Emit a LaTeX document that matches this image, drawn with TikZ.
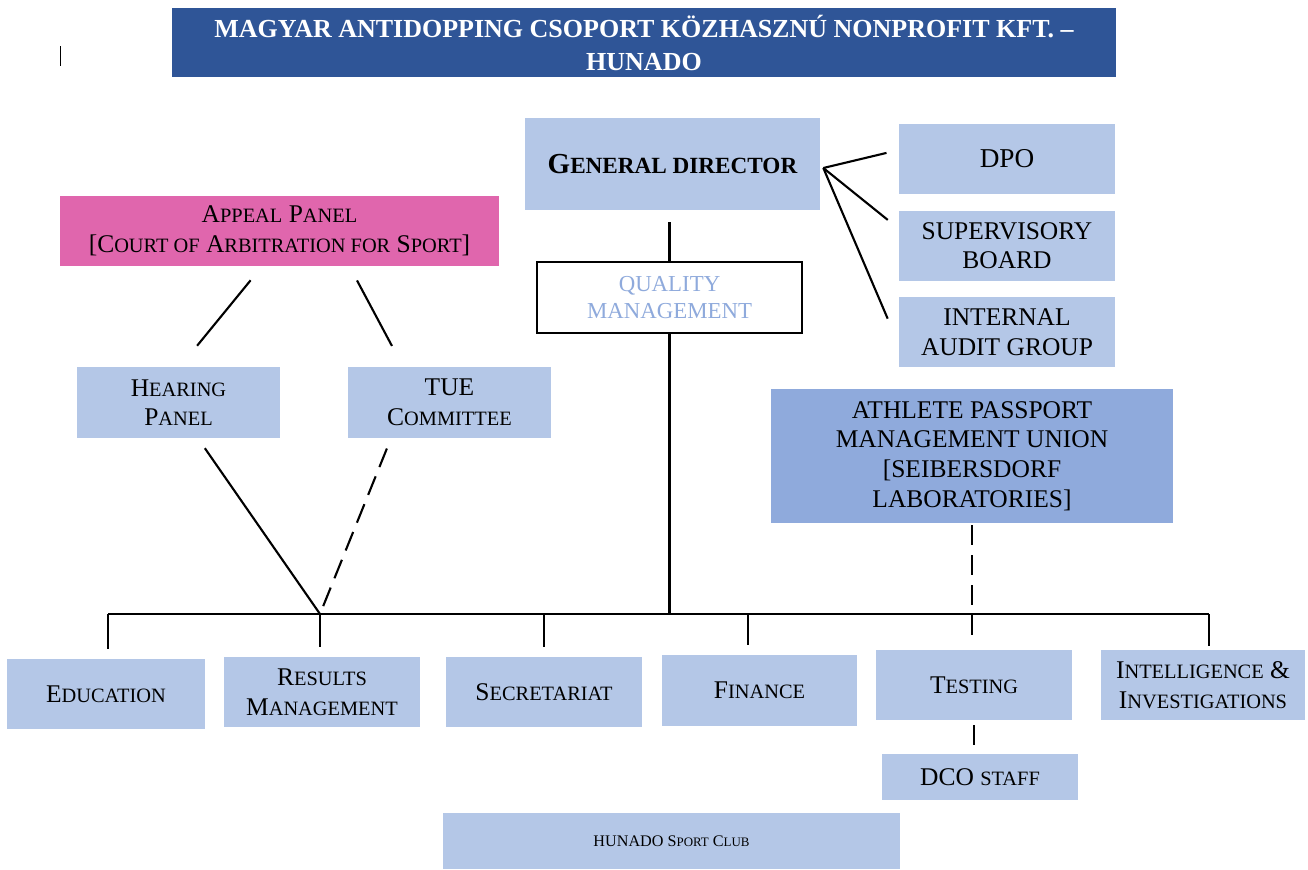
\documentclass[tikz,border=0pt]{standalone}
\usepackage{fontspec}
\setmainfont{Liberation Serif}
\usetikzlibrary{positioning}
\definecolor{boxblue}{HTML}{B4C7E7}
\definecolor{passblue}{HTML}{8FAADC}
\definecolor{titleblue}{HTML}{2F5597}
\definecolor{appealpink}{HTML}{E066AD}
\definecolor{qmtext}{HTML}{8FAADC}
\newcommand{\lowcaps}[1]{{\fontsize{\the\dimexpr 8\fontdimen6\font/10\relax}{\baselineskip}\selectfont #1}}
\tikzset{
    unit/.style={fill=boxblue, align=center, inner sep=0pt, minimum width=3.92cm, minimum height=1.4cm, font=\fontsize{14.5}{16.8}\selectfont},
    link/.style={-, very thick},
    stem/.style={-, very thick, shorten >=0.19cm}
}
\begin{document}
\begin{tikzpicture}[x=0.02cm, y=-0.02cm]
            \useasboundingbox (0,0) rectangle (1308,869);
            \node[fill=titleblue, text=white, align=center, inner sep=0pt, minimum width=18.88cm, minimum height=1.38cm, font=\fontsize{14.8}{18.8}\selectfont\bfseries] (title) at (644,42.5) {MAGYAR ANTIDOPPING CSOPORT KÖZHASZNÚ NONPROFIT KFT. --\\HUNADO};
            \draw[thin] (60,46) -- (60,66);

            \node[unit, minimum width=5.9cm, minimum height=1.84cm, font=\fontsize{16.5}{19}\selectfont\bfseries] (gen_dir) at (672.5,164) {G\lowcaps{ENERAL DIRECTOR}};
            \node[unit, minimum width=4.32cm, font=\fontsize{15.5}{18}\selectfont] (dpo) at (1007,159) {DPO};
            \node[unit, minimum width=4.32cm, below = 0.32cm of dpo] (sup_board) {SUPERVISORY\\BOARD};
            \node[unit, minimum width=4.32cm, below = 0.32cm of sup_board] (int_audit) {INTERNAL\\AUDIT GROUP};
            \node[unit, fill=appealpink, minimum width=8.78cm] (appeal) at (279.5,231) {A\lowcaps{PPEAL} P\lowcaps{ANEL}\\{[}C\lowcaps{OURT OF} A\lowcaps{RBITRATION FOR} S\lowcaps{PORT}]};
            \node[unit, fill=white, draw=black, line width=0.8pt, text=qmtext, minimum width=5.3cm, minimum height=1.42cm, font=\fontsize{13}{15.5}\selectfont] (qm) at (669.5,297.5) {QUALITY\\MANAGEMENT};
            \node[unit, minimum width=4.06cm, minimum height=1.42cm] (hearing) at (178.5,402.5) {H\lowcaps{EARING}\\P\lowcaps{ANEL}};
            \node[unit, minimum width=4.06cm, minimum height=1.42cm] (tue) at (449.5,402.5) {TUE\\C\lowcaps{OMMITTEE}};
            \node[unit, fill=passblue, minimum width=8.04cm, minimum height=2.68cm] (athlete) at (972,456) {ATHLETE PASSPORT\\MANAGEMENT UNION\\{[}SEIBERSDORF\\LABORATORIES]};

            \node[unit, minimum width=3.96cm] (educ) at (106,694) {E\lowcaps{DUCATION}};
            \node[unit] (res_man) at (322,692) {R\lowcaps{ESULTS}\\M\lowcaps{ANAGEMENT}};
            \node[unit] (secr) at (544,692) {S\lowcaps{ECRETARIAT}};
            \node[unit, minimum width=3.9cm, minimum height=1.42cm] (fin) at (759.5,690.5) {F\lowcaps{INANCE}};
            \node[unit] (testing) at (974,685) {T\lowcaps{ESTING}};
            \node[unit, minimum width=4.08cm] (intel) at (1203,685) {I\lowcaps{NTELLIGENCE} \&\\I\lowcaps{NVESTIGATIONS}};
            \node[unit, minimum height=0.92cm] (dco) at (980,777) {DCO \lowcaps{STAFF}};
            \node[unit, minimum width=9.14cm, minimum height=1.12cm, font=\fontsize{9.2}{11}\selectfont] (club) at (671.5,841) {HUNADO S\lowcaps{PORT} C\lowcaps{LUB}};

            \coordinate (bus_l) at (108,614);
            \coordinate (bus_r) at (1209,614);
            \coordinate (rm_join) at (320,614);
            \coordinate (fin_top) at (748,614);
            \coordinate (gd_fan) at ([shift={(3,4)}]gen_dir.east);

            \draw[link] (bus_l) -- (bus_r);
            \draw[stem] (bus_l) -- (bus_l |- educ.north);
            \draw[stem] (rm_join) -- (rm_join |- res_man.north);
            \draw[stem] (secr.north |- bus_l) -- (secr.north);
            \draw[stem] (fin_top) -- (fin_top |- fin.north);
            \draw[link, shorten >=0.08cm] (bus_r) -- (bus_r |- intel.north);
            \draw[link, dash pattern=on 0.4cm off 0.2cm, shorten <=0.04cm, shorten >=0.2cm] (athlete.south) -- (athlete.south |- testing.north);
            \draw[link, shorten <=0.1cm, shorten >=0.18cm] (testing.south) -- (testing.south |- dco.north);

            \draw[link, shorten <=0.24cm] (qm.north |- gen_dir.south) -- (qm.north);
            \draw[link] (qm.south) -- (qm.south |- bus_l);
            \draw[link, shorten >=0.25cm] (gd_fan) -- ([shift={(0,-9)}]dpo.west);
            \draw[link, shorten >=0.28cm] (gd_fan) -- ([shift={(0,-17)}]sup_board.west);
            \draw[link, shorten >=0.56cm] (gd_fan) -- ([shift={(0,12)}]int_audit.west);

            \draw[link, shorten <=0.36cm, shorten >=0.54cm] ([xshift=-0.35cm]appeal.south) -- ([xshift=0.03cm]hearing.north);
            \draw[link, shorten <=0.32cm, shorten >=0.47cm] ([xshift=1.4cm]appeal.south) -- ([xshift=-0.93cm]tue.north);
            \draw[link, shorten <=0.24cm] ([xshift=0.39cm]hearing.south) -- (rm_join);
            \draw[link, dash pattern=on 0.4cm off 0.2cm, shorten <=0.22cm] ([xshift=-1.17cm]tue.south) -- (rm_join);
        \end{tikzpicture}
\end{document}
